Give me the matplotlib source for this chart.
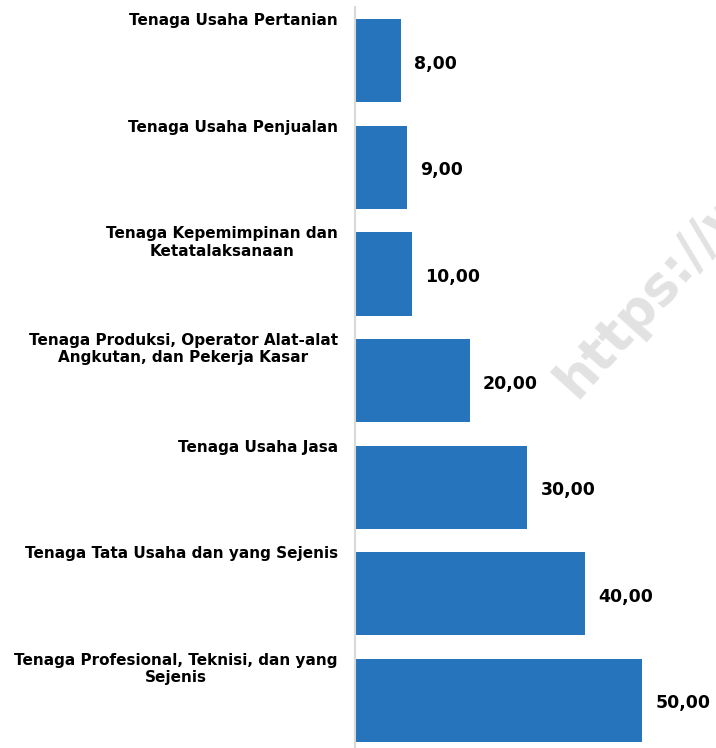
#!/usr/bin/env python3

import matplotlib
matplotlib.use("Agg")
import matplotlib.pyplot as plt

categories = [
    "Tenaga Usaha Pertanian",
    "Tenaga Usaha Penjualan",
    "Tenaga Kepemimpinan dan\nKetatalaksanaan",
    "Tenaga Produksi, Operator Alat-alat\nAngkutan, dan Pekerja Kasar",
    "Tenaga Usaha Jasa",
    "Tenaga Tata Usaha dan yang Sejenis",
    "Tenaga Profesional, Teknisi, dan yang\nSejenis",
]
values = [8, 9, 10, 20, 30, 40, 50]

bar_color = '#2574bc'
axis_color = '#d9d9d9'

fig = plt.figure(figsize=(7.16, 7.48), dpi=100)
W, H = 716, 748

# axes placed in pixels: left spine at x=355
ax = fig.add_axes([355 / W, 0, 361 / W, 740.5 / H])
pos = list(range(len(values)))
ax.barh(pos, values, height=0.78, color=bar_color, zorder=2)

ax.set_xlim(0, 62.8)
ax.set_ylim(6.446, -0.5)

for s in ['top', 'right', 'bottom']:
    ax.spines[s].set_visible(False)
ax.spines['left'].set_color(axis_color)
ax.spines['left'].set_linewidth(1.5)
ax.set_xticks([])
ax.set_yticks([])

px = 72 / 100  # points per pixel

for i, (lab, v) in enumerate(zip(categories, values)):
    # category label, top aligned a little above the bar
    ax.annotate(lab, xy=(0, i - 0.39), xytext=(-17 * px, 6 * px),
                textcoords='offset points', ha='right', va='top',
                multialignment='center', fontsize=11, fontweight='bold',
                linespacing=1.2, color='black', annotation_clip=False)
    # value label
    ax.annotate("{:.2f}".format(v).replace('.', ','), xy=(v, i),
                xytext=(13 * px, -3 * px), textcoords='offset points',
                ha='left', va='center', fontsize=12.5, fontweight='bold',
                color='black', annotation_clip=False)

# watermark (runs off the right edge, as in the source image)
fig.text(576 / W, 1 - 400 / H, "https://www", rotation=48,
         rotation_mode='anchor', ha='left', va='baseline',
         fontsize=38, fontweight='bold', color='#e2e2e2', zorder=0)

plt.savefig("out.png", dpi=100)
